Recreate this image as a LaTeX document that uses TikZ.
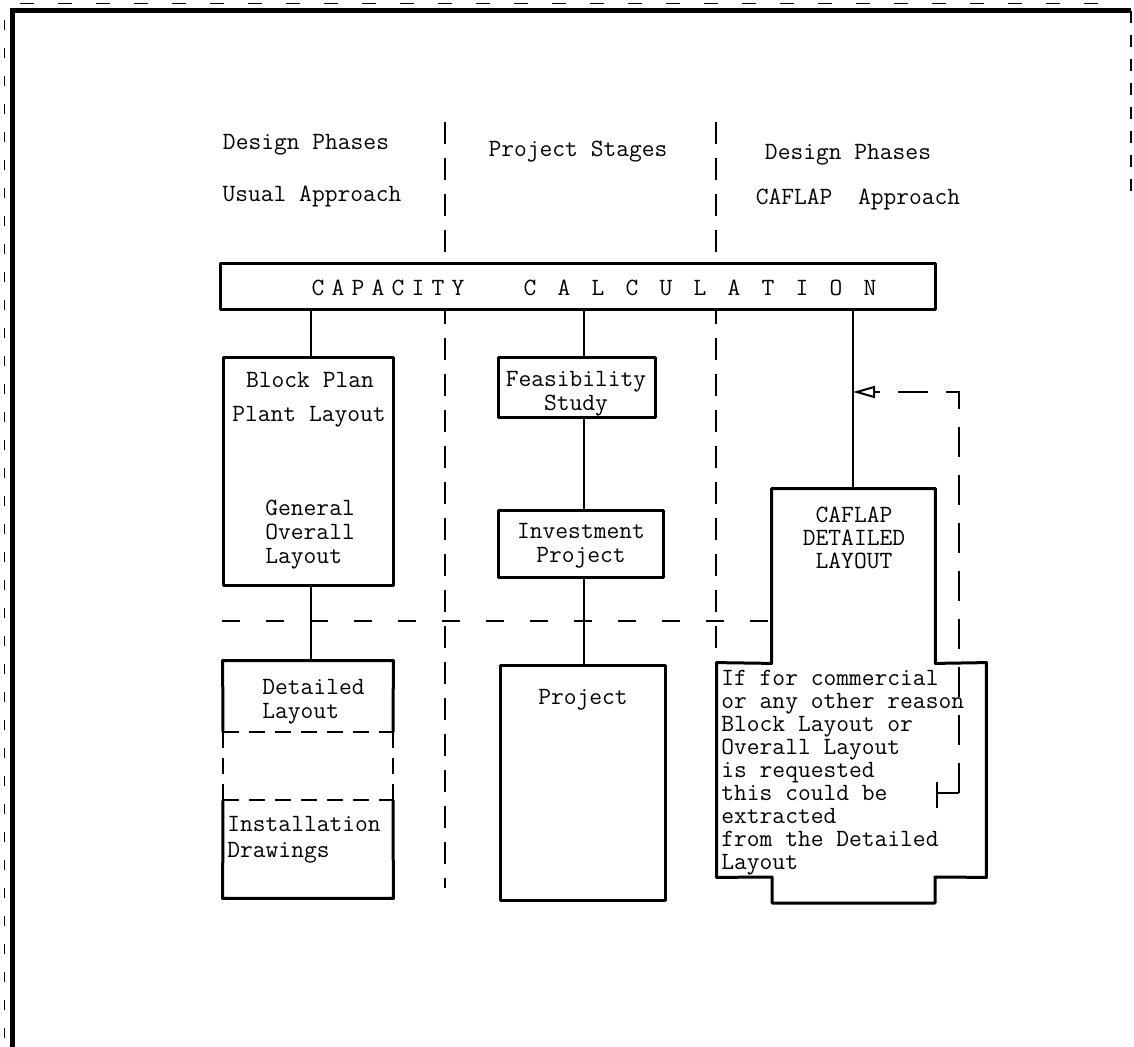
\documentclass[tikz,border=0pt]{standalone}
\usepackage{fontspec}
\usetikzlibrary{fit,arrows.meta}
\newcommand\twf[1]{\ttfamily\fontsize{12.4}{#1}\selectfont\addfontfeature{FakeBold=0.8}}
\begin{document}
\begin{tikzpicture}[x=0.5pt,y=-0.5pt,
  box/.style={draw,line width=1.5pt,inner sep=0pt,line join=round},
  ghost/.style={inner sep=0pt},
  boxline/.style={line width=1.5pt,line join=round},
  dashline/.style={line width=1.2pt,dash pattern=on 8pt off 5pt},
  conn/.style={line width=1pt},
  divider/.style={line width=1.1pt,dash pattern=on 11pt off 7pt},
  hdash/.style={line width=0.9pt,dash pattern=on 9pt off 13pt},
  fbline/.style={line width=1pt,dash pattern=on 15pt off 9pt},
  txt/.style={font=\twf{11.8pt},inner sep=0pt},
  frame/.style={line width=2.5pt}]
\useasboundingbox (0,0) rectangle (1134,1047);
% outer frame
\draw[frame] (12,1047) -- (12,11) -- (1131,11);
\draw[line width=0.6pt,dash pattern=on 6pt off 6pt] (1131,11) -- (1131,200);
\draw[line width=0.4pt,dash pattern=on 5pt off 9pt] (4,20) -- (4,1040);
\draw[line width=0.4pt,dash pattern=on 7pt off 12pt] (20,3) -- (1120,3);
% headers
\node[txt] (h1) at (306,145) {Design Phases};
\node[txt] (h2) at (312,197) {Usual Approach};
\node[txt] (h3) at (578,152) {Project Stages};
\node[txt] (h4) at (848,155) {Design Phases};
\node[txt] (h5) at (858,200) {CAFLAP\ \ Approach};
% dividers
\coordinate (d1top) at (445,122);
\coordinate (d1bot) at (445,888);
\coordinate (d2top) at (716,122);
\coordinate (d2bot) at (716,877);
\draw[divider] (d1top) -- (d1bot);
\draw[divider] (d2top) -- (d2bot);
% capacity calculation
\node[box,fill=white,fit={(220,264)(935,310)}] (cap) {};
\foreach \ch/\xx [count=\i] in {C/318,A/338,P/358,A/378,C/398,I/418,T/438,Y/458}
  \node[txt] (capa\i) at (\xx,288) {\ch};
\foreach \ch/\xx [count=\i] in {C/530,A/564,L/598,C/632,U/666,L/700,A/734,T/768,I/802,O/836,N/870}
  \node[txt] (calc\i) at (\xx,288) {\ch};
% column x positions
\coordinate (c1) at (311,0);
\coordinate (c2) at (584,0);
\coordinate (c3) at (853,0);
% left column
\node[box,fit={(223,358)(393,585)}] (block) {};
\node[txt] (bp) at (310,380) {Block Plan};
\node[txt] (pl) at (309,417) {Plant Layout};
\node[txt,font=\twf{12pt},align=left,anchor=north west] (gol) at (265,500) {General\\Overall\\Layout};
\node[ghost,fit={(223,661)(393,898)}] (det) {};
\draw[boxline] (223,732) -- (det.north west) -- (det.north east) -- (393,732);
\draw[dashline] (223,732) -- (393,732);
\draw[dashline] (223,732) -- (223,800);
\draw[dashline] (393,732) -- (393,800);
\draw[dashline] (223,800) -- (393,800);
\draw[boxline] (223,800) -- (det.south west) -- (det.south east) -- (393,800);
\node[txt,align=left,anchor=north west] (dl) at (262,679) {Detailed\\Layout};
\node[txt,font=\twf{13pt},align=left,anchor=north west] (inst) at (227,816) {Installation\\Drawings};
\draw[conn] (cap.south -| c1) -- (block.north -| c1);
\draw[conn] (block.south -| c1) -- (det.north -| c1);
% middle column
\node[box,fit={(498,358)(655,418)}] (feas) {};
\node[txt,align=center,anchor=north] (feast) at (576,371) {Feasibility\\Study};
\node[box,fit={(498,510)(663,577)}] (inv) {};
\node[txt,align=center,anchor=north] (invt) at (581,523) {Investment\\Project};
\node[box,fit={(500,665)(665,900)}] (proj) {};
\node[txt] (projt) at (583,700) {Project};
\draw[conn] (cap.south -| c2) -- (feas.north -| c2);
\draw[conn] (feas.south -| c2) -- (inv.north -| c2);
\draw[conn] (inv.south -| c2) -- (proj.north -| c2);
% horizontal dashed line
\coordinate (hl1) at (222,621);
\coordinate (hl2) at (768,621);
\draw[hdash] (hl1) -- (hl2);
% right column: CAFLAP detailed layout (cross-shaped outline)
\node[ghost,fit={(772,489)(935,663)}] (caftop) {};
\node[ghost,fit={(717,663)(986,877)}] (cafmid) {};
\draw[boxline] (caftop.north west) -- (caftop.north east) -- (caftop.south east)
  -- (cafmid.north east) -- (cafmid.south east) -- (935,877) -- (935,903)
  -- (772,903) -- (772,877) -- (cafmid.south west) -- (cafmid.north west)
  -- (caftop.south west) -- cycle;
\node[txt,font=\twf{11.5pt},align=center,anchor=north] (caft) at (854,507) {CAFLAP\\DETAILED\\LAYOUT};
\node[txt,font=\twf{11.5pt},align=left,anchor=north west] (note) at (721,670)
  {If for commercial\\or any other reason\\Block Layout or\\Overall Layout\\is requested\\this could be\\extracted\\from the Detailed\\Layout};
\draw[conn] (cap.south -| c3) -- (caftop.north -| c3);
% feedback loop
\coordinate (fb0a) at (937,782);
\coordinate (fb0b) at (937,808);
\coordinate (fb0) at (937,793);
\coordinate (fb1) at (959,793);
\coordinate (fb2) at (959,392);
\coordinate (fb3) at (876,392);
\coordinate (fbend) at (853,392);
\draw[conn] (fb0a) -- (fb0b);
\draw[conn] (fb0) -- (fb1);
\draw[fbline] (fb1) -- (fb2) -- (fb3);
\draw[conn,-{Triangle[open,length=11pt,width=6pt]}] (fb3) -- (fbend);
\end{tikzpicture}
\end{document}
